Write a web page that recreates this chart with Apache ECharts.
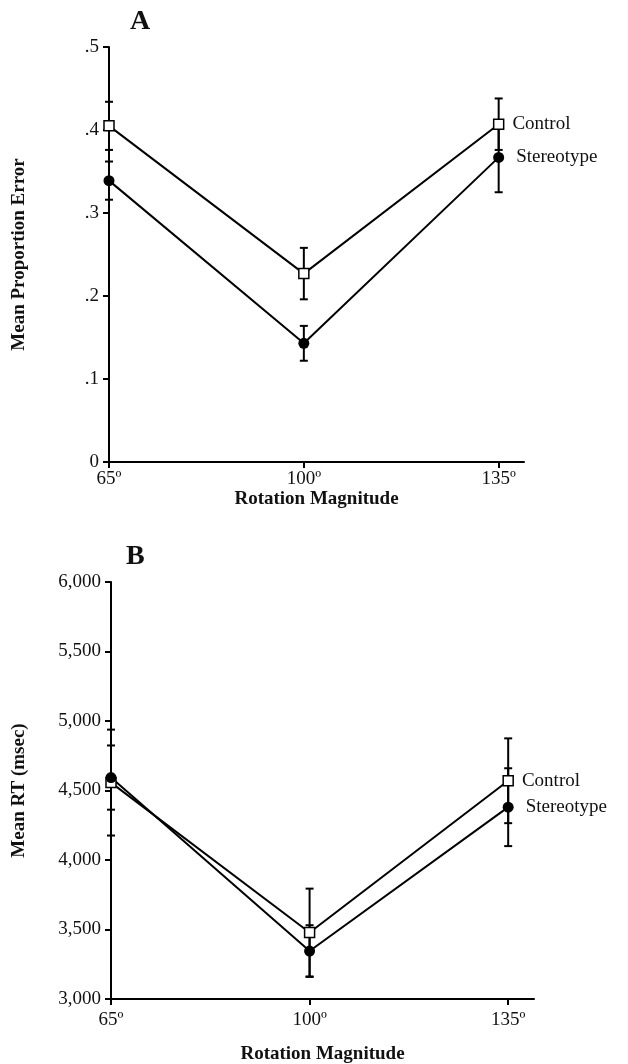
<!DOCTYPE html>
<html>
<head>
<meta charset="utf-8">
<script src="https://cdn.jsdelivr.net/npm/echarts@6/dist/echarts.min.js"></script>
<style>
html,body{margin:0;padding:0;background:#fff;}
#chart{width:628px;height:1064px;}
</style>
</head>
<body>
<div id="chart"></div>
<script>
// ---- data ----
var xCats = ['65º', '100º', '135º'];
var yTicksA = ['0', '.1', '.2', '.3', '.4', '.5'];
var yTicksB = ['3,000', '3,500', '4,000', '4,500', '5,000', '5,500', '6,000'];
var seriesNames = ['Control', 'Stereotype'];

var controlA = [0.405, 0.227, 0.407];
var controlErrA = [0.029, 0.031, 0.031];
var stereoA = [0.339, 0.143, 0.367];
var stereoErrA = [0.023, 0.021, 0.042];

var controlB = [4557, 3478, 4570];
var controlErrB = [381, 316, 305];
var stereoB = [4593, 3345, 4380];
var stereoErrB = [231, 186, 280];

// ---- helpers ----
var FONT = 'Liberation Serif';
function lineData(vals, name) {
  return vals.map(function (v, i) {
    var item = { value: [i, v] };
    if (i === vals.length - 1) {
      item.label = {
        show: true, position: 'right', distance: name === 'Control' ? 8 : 12,
        formatter: name, color: '#111', fontFamily: FONT, fontSize: 19
      };
    }
    return item;
  });
}
function errData(vals, errs) {
  return vals.map(function (v, i) { return [i, v - errs[i], v + errs[i]]; });
}
function errRender(params, api) {
  var x = api.value(0);
  var lo = api.coord([x, api.value(1)]);
  var hi = api.coord([x, api.value(2)]);
  var w = 4;
  var st = { stroke: '#000', lineWidth: 2 };
  return {
    type: 'group',
    children: [
      { type: 'line', shape: { x1: lo[0], y1: lo[1], x2: hi[0], y2: hi[1] }, style: st },
      { type: 'line', shape: { x1: lo[0] - w, y1: lo[1], x2: lo[0] + w, y2: lo[1] }, style: st },
      { type: 'line', shape: { x1: hi[0] - w, y1: hi[1], x2: hi[0] + w, y2: hi[1] }, style: st }
    ]
  };
}
function xAxisCfg(gi, labelMargin, nameGap) {
  return {
    type: 'value', gridIndex: gi, min: 0, max: 2.13,
    name: 'Rotation Magnitude', nameLocation: 'middle', nameGap: nameGap,
    nameTextStyle: { fontFamily: FONT, fontWeight: 'bold', fontSize: 19, color: '#111' },
    axisLine: { show: true, onZero: false, lineStyle: { color: '#000', width: 2 } },
    axisTick: { show: true, customValues: [0, 1, 2], length: 6, lineStyle: { color: '#000', width: 2 } },
    axisLabel: { customValues: [0, 1, 2], formatter: function (v) { return xCats[Math.round(v)]; },
      fontFamily: FONT, fontSize: 19, color: '#111', margin: labelMargin },
    splitLine: { show: false }
  };
}
function yAxisCfg(gi, name, min, max, interval, ticks, gap) {
  return {
    type: 'value', gridIndex: gi, min: min, max: max, interval: interval,
    name: name, nameLocation: 'middle', nameGap: gap, nameRotate: 90,
    nameTextStyle: { fontFamily: FONT, fontWeight: 'bold', fontSize: 19, color: '#111' },
    axisLine: { show: true, lineStyle: { color: '#000', width: 2 } },
    axisTick: { show: true, length: 6, lineStyle: { color: '#000', width: 2 } },
    axisLabel: { formatter: function (v) { return ticks[Math.round((v - min) / interval)]; },
      fontFamily: FONT, fontSize: 19, color: '#111', margin: 10 },
    splitLine: { show: false }
  };
}
function lineSeries(gi, vals, name, symbol) {
  return {
    type: 'line', name: name, xAxisIndex: gi, yAxisIndex: gi,
    data: lineData(vals, name), symbol: symbol, symbolSize: symbol === 'rect' ? 10 : 11,
    showAllSymbol: true, z: 3,
    lineStyle: { color: '#000', width: 2 },
    itemStyle: symbol === 'rect'
      ? { color: '#fff', borderColor: '#000', borderWidth: 1.5 }
      : { color: '#000', borderColor: '#000', borderWidth: 0 },
    emphasis: { disabled: true }, animation: false
  };
}
function errSeries(gi, vals, errs) {
  return {
    type: 'custom', xAxisIndex: gi, yAxisIndex: gi, renderItem: errRender,
    data: errData(vals, errs), z: 2, animation: false, silent: true
  };
}

var option = {
  backgroundColor: '#fff',
  animation: false,
  title: [
    { text: 'A', left: 125, top: 3, textStyle: { fontFamily: FONT, fontWeight: 'bold', fontSize: 28, color: '#111' } },
    { text: 'B', left: 121, top: 538, textStyle: { fontFamily: FONT, fontWeight: 'bold', fontSize: 28, color: '#111' } }
  ],
  grid: [
    { left: 109, right: 104, top: 47, height: 415, containLabel: false, outerBoundsMode: 'none' },
    { left: 111, right: 94, top: 582, height: 417, containLabel: false, outerBoundsMode: 'none' }
  ],
  xAxis: [xAxisCfg(0, 8, 18), xAxisCfg(1, 12, 46)],
  yAxis: [
    yAxisCfg(0, 'Mean Proportion Error', 0, 0.5, 0.1, yTicksA, 80),
    yAxisCfg(1, 'Mean RT (msec)', 3000, 6000, 500, yTicksB, 82)
  ],
  series: [
    errSeries(0, controlA, controlErrA),
    errSeries(0, stereoA, stereoErrA),
    lineSeries(0, controlA, seriesNames[0], 'rect'),
    lineSeries(0, stereoA, seriesNames[1], 'circle'),
    errSeries(1, controlB, controlErrB),
    errSeries(1, stereoB, stereoErrB),
    lineSeries(1, controlB, seriesNames[0], 'rect'),
    lineSeries(1, stereoB, seriesNames[1], 'circle')
  ]
};
var chart = echarts.init(document.getElementById('chart'), null, { renderer: 'canvas' });
chart.setOption(option);
</script>
</body>
</html>
